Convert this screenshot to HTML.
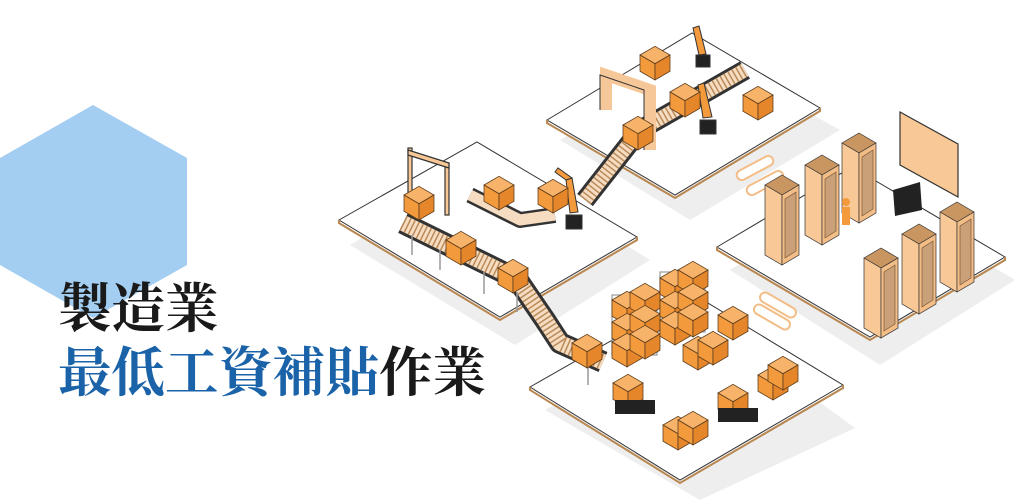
<!DOCTYPE html>
<html><head><meta charset="utf-8"><style>
html,body{margin:0;padding:0;background:#fff;}
.wrap{position:relative;width:1024px;height:502px;overflow:hidden;background:#fff;}
svg{position:absolute;left:0;top:0;}
.t{position:absolute;left:58px;font-family:"Liberation Serif","Noto Serif CJK SC",serif;font-weight:bold;font-size:53.5px;line-height:1;white-space:nowrap;}
</style></head><body><div class="wrap">
<svg width="1024" height="502" viewBox="0 0 1024 502">
<defs>
<g id="box"><g transform="scale(1.25)"><polygon points="0,0 12,-7 24,0 12,7" fill="#f7b36a" stroke="#5a3a1a" stroke-width=".6"/><polygon points="0,0 12,7 12,20 0,13" fill="#f39a3d" stroke="#5a3a1a" stroke-width=".6"/><polygon points="12,7 24,0 24,13 12,20" fill="#e5862a" stroke="#5a3a1a" stroke-width=".6"/></g></g>
<g id="cab"><polygon points="0,0 17,-10 34,0 17,10" fill="#c99560" stroke="#333" stroke-width=".7"/><polygon points="0,0 17,10 17,80 0,70" fill="#f8c896" stroke="#333" stroke-width=".7"/><polygon points="17,10 34,0 34,70 17,80" fill="#f3bd87" stroke="#333" stroke-width=".7"/><polygon points="20,14 31,7 31,66 20,73" fill="#caa079" stroke="#6b4a2a" stroke-width=".6"/></g>
</defs>
<polygon points="93,105 187,158 187,265 93,318 0,265 0,158" fill="#a3cdf1"/>
<g fill="#eeeeee">
<polygon points="560,140 705,55 840,130 690,220"/>
<polygon points="350,245 490,160 650,260 515,345"/>
<polygon points="730,270 865,190 1015,280 880,365"/>
<polygon points="545,410 705,318 855,428 700,500"/>
</g>
<g stroke="#333" stroke-width="1">
<polygon points="547,120 692,33 820,108 675,195" fill="#fff"/>
<polyline points="547,120 547,123 675,198 820,111 820,108" fill="none" stroke="#b9874f" stroke-width="2"/>
<polygon points="339,220 477,142 637,237 500,317" fill="#fff"/>
<polyline points="339,220 339,223 500,320 637,240 637,237" fill="none" stroke="#b9874f" stroke-width="2"/>
<polygon points="717,247 852,167 1005,257 870,337" fill="#fff"/>
<polyline points="717,247 717,250 870,340 1005,260 1005,257" fill="none" stroke="#b9874f" stroke-width="2"/>
<polygon points="530,387 693,294 843,385 680,480" fill="#fff"/>
<polyline points="530,387 530,390 680,483 843,388 843,385" fill="none" stroke="#b9874f" stroke-width="2"/>
</g>
<g fill="none" stroke-linejoin="round">
<polyline points="403,223 517,279 545,320 560,343 603,362" stroke="#333" stroke-width="22"/>
<polyline points="403,223 517,279 545,320 560,343 603,362" stroke="#f6dcc0" stroke-width="16"/>
<polyline points="403,223 517,279 545,320 560,343 603,362" stroke="#b98a5a" stroke-width="16" stroke-dasharray="1.5 3"/>
<polyline points="585,200 640,130 745,70" stroke="#333" stroke-width="20"/>
<polyline points="585,200 640,130 745,70" stroke="#f6dcc0" stroke-width="14"/>
<polyline points="585,200 640,130 745,70" stroke="#b98a5a" stroke-width="14" stroke-dasharray="1.5 3"/>
<polyline points="470,195 520,220 555,215" stroke="#333" stroke-width="16"/>
<polyline points="470,195 520,220 555,215" stroke="#f6dcc0" stroke-width="11"/>
</g>
<g stroke="#999" stroke-width="1.5">
<line x1="412" y1="235" x2="412" y2="255"/><line x1="440" y1="250" x2="440" y2="270"/><line x1="484" y1="272" x2="484" y2="294"/><line x1="517" y1="292" x2="517" y2="312"/><line x1="588" y1="368" x2="588" y2="385"/>
</g>
<g stroke="#333" stroke-width="1.2" fill="#f8c896"><rect x="408" y="148" width="4" height="52"/><rect x="445" y="163" width="4" height="52"/><polygon points="408,150 449,163 449,168 408,155"/></g>
<path d="M606,110 V75 L650,90 V150" fill="none" stroke="#f6c899" stroke-width="12"/>
<path d="M606,110 V75 L650,90 V150" fill="none" stroke="#333" stroke-width="1" transform="translate(-6,0)"/>
<g stroke="#333" stroke-width="1">
<rect x="566" y="215" width="16" height="14" fill="#222"/>
<polygon points="570,213 566,180 572,178 578,212" fill="#f39a3d"/>
<polygon points="566,180 555,172 558,168 572,178" fill="#f39a3d"/>
<rect x="700" y="120" width="16" height="14" fill="#222"/>
<polygon points="703,118 698,85 704,83 712,117" fill="#f39a3d"/>
<rect x="696" y="55" width="14" height="12" fill="#222"/>
<polygon points="699,55 693,28 699,26 706,54" fill="#f39a3d"/>
</g>
<use href="#box" x="404" y="195"/><use href="#box" x="446" y="240"/><use href="#box" x="498" y="268"/><use href="#box" x="572" y="343"/>
<use href="#box" x="484" y="185"/><use href="#box" x="538" y="188"/>
<use href="#box" x="640" y="55"/><use href="#box" x="743" y="95"/><use href="#box" x="670" y="92"/><use href="#box" x="623" y="125"/>
<g stroke="#999" stroke-width="1.2" fill="none"><rect x="612" y="295" width="45" height="60"/><rect x="660" y="272" width="45" height="60"/></g>
<use href="#box" x="612" y="300"/><use href="#box" x="630" y="292"/><use href="#box" x="612" y="322"/><use href="#box" x="630" y="314"/><use href="#box" x="612" y="342"/><use href="#box" x="630" y="334"/>
<use href="#box" x="660" y="278"/><use href="#box" x="678" y="270"/><use href="#box" x="660" y="300"/><use href="#box" x="678" y="292"/><use href="#box" x="660" y="320"/><use href="#box" x="678" y="312"/>
<use href="#box" x="718" y="315"/>
<use href="#box" x="683" y="345"/><use href="#box" x="698" y="340"/>
<use href="#box" x="613" y="383"/><use href="#box" x="718" y="393"/>
<use href="#box" x="758" y="375"/><use href="#box" x="768" y="365"/>
<use href="#box" x="663" y="425"/><use href="#box" x="678" y="420"/>
<rect x="615" y="400" width="40" height="14" fill="#222"/><rect x="718" y="408" width="40" height="14" fill="#222"/>
<g fill="#fff" stroke="#f3bd87" stroke-width="2"><rect x="735" y="163" width="40" height="10" rx="5" transform="rotate(-28 755 168)"/><rect x="745" y="178" width="40" height="10" rx="5" transform="rotate(-28 765 183)"/><rect x="758" y="300" width="40" height="10" rx="5" transform="rotate(30 778 305)"/><rect x="752" y="312" width="40" height="10" rx="5" transform="rotate(30 772 317)"/></g>
<polygon points="900,112 958,144 958,197 900,165" fill="#f8c896" stroke="#333" stroke-width="1.2"/>
<use href="#cab" x="765" y="185"/><use href="#cab" x="805" y="165"/><use href="#cab" x="842" y="143"/>
<use href="#cab" x="940" y="212"/><use href="#cab" x="902" y="234"/><use href="#cab" x="864" y="258"/>
<polygon points="893,190 920,182 922,210 895,216" fill="#222"/>
<circle cx="846" cy="202" r="4" fill="#f39a3d"/><rect x="842" y="207" width="8" height="18" fill="#f39a3d"/>
</svg>
<div class="t" style="top:283px;color:#1a1a1a;">製造業</div>
<div class="t" style="top:347px;color:#1b63a9;">最低工資補貼<span style="color:#1a1a1a">作業</span></div>
</div></body></html>
